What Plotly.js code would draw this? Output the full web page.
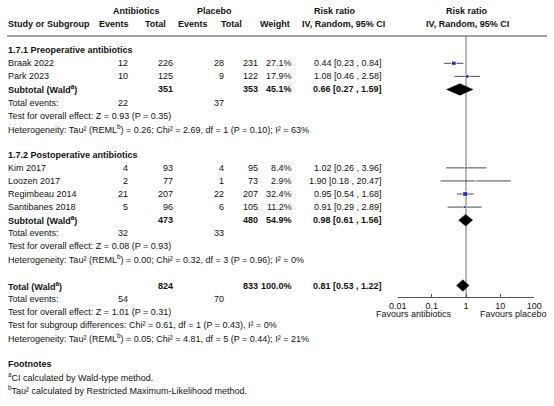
<!DOCTYPE html>
<html>
<head>
<meta charset="utf-8">
<script src="https://cdn.plot.ly/plotly-3.0.1.min.js"></script>
<style>
  html, body { margin: 0; padding: 0; background: #fff; }
  #chart { width: 554px; height: 406px; }
</style>
</head>
<body>
<div id="chart"></div>
<script>
// ---- Study data ----
const studies    = ['Braak 2022', 'Park 2023', 'Kim 2017', 'Loozen 2017', 'Regimbeau 2014', 'Santibanes 2018'];
const studyGroup = [0, 0, 1, 1, 1, 1];
const abEvents   = [12, 10, 4, 2, 21, 5];
const abTotal    = [226, 125, 93, 77, 207, 96];
const plEvents   = [28, 9, 4, 1, 22, 6];
const plTotal    = [231, 122, 95, 73, 207, 105];
const weights    = [27.1, 17.9, 8.4, 2.9, 32.4, 11.2];
const rr         = [0.44, 1.08, 1.02, 1.90, 0.95, 0.91];
const rrLow      = [0.23, 0.46, 0.26, 0.18, 0.54, 0.29];
const rrHigh     = [0.84, 2.58, 3.96, 20.47, 1.68, 2.89];

// ---- Subgroup summaries ----
const groupNames    = ['1.7.1 Preoperative antibiotics', '1.7.2 Postoperative antibiotics'];
const groupAbTotal  = [351, 473];
const groupPlTotal  = [353, 480];
const groupAbEvents = [22, 32];
const groupPlEvents = [37, 33];
const groupWeight   = [45.1, 54.9];
const groupRR       = [0.66, 0.98];
const groupLow      = [0.27, 0.61];
const groupHigh     = [1.59, 1.56];
const groupTest     = ['Z = 0.93 (P = 0.35)', 'Z = 0.08 (P = 0.93)'];
const groupHet      = ['Tau² (REML<sup>b</sup>) = 0.26; Chi² = 2.69, df = 1 (P = 0.10); I² = 63%',
                       'Tau² (REML<sup>b</sup>) = 0.00; Chi² = 0.32, df = 3 (P = 0.96); I² = 0%'];

// ---- Overall summary ----
const totalAbTotal  = 824;
const totalPlTotal  = 833;
const totalAbEvents = 54;
const totalPlEvents = 70;
const totalWeight   = 100.0;
const totalRR       = 0.81;
const totalLow      = 0.53;
const totalHigh     = 1.22;
const totalTest     = 'Z = 1.01 (P = 0.31)';
const subgroupDiff  = 'Chi² = 0.61, df = 1 (P = 0.43), I² = 0%';
const totalHet      = 'Tau² (REML<sup>b</sup>) = 0.05; Chi² = 4.81, df = 5 (P = 0.44); I² = 21%';

// ---- Axis ticks and labels ----
const tickValues = [0.01, 0.1, 1, 10, 100];
const tickLabels = ['0.01', '0.1', '1', '10', '100'];
const favourLeft  = 'Favours antibiotics';
const favourRight = 'Favours placebo';
const footnotes = ['<sup>a</sup>CI calculated by Wald-type method.',
                   '<sup>b</sup>Tau² calculated by Restricted Maximum-Likelihood method.'];

// ---- Page geometry ----
const W = 554, H = 406;
const ROW0 = 24.1, STEP = 13.07;            // pixel centre of row 0 and row pitch
const rowOf = px => (px - ROW0) / STEP;
const FONT = 'Liberation Sans, Arial, sans-serif';
const FS = 9;
const col = { name: 7, abEv: 129, abTot: 174, plEv: 225, plTot: 259, weight: 293, rr: 383 };
const axisPx = { left: 397.7, right: 534.3, y: 297.3 };

const annotations = [];
function txt(xpx, row, text, anchor, bold) {
  annotations.push({
    xref: 'paper', yref: 'y', x: xpx / W, y: row,
    text: bold ? '<b>' + text + '</b>' : text,
    xanchor: anchor, yanchor: 'middle', showarrow: false, borderpad: 0,
    font: { family: FONT, size: FS, color: '#111' }
  });
}
const fmt2 = v => v.toFixed(2);
const ciText = (e, l, h) => fmt2(e) + ' [' + fmt2(l) + ' , ' + fmt2(h) + ']';
const pct = w => w.toFixed(1) + '%';

// Column headers
txt(136, -1, 'Antibiotics', 'center', true);
txt(214, -1, 'Placebo', 'center', true);
txt(335, -1, 'Risk ratio', 'center', true);
txt(467, -1, 'Risk ratio', 'center', true);
txt(col.name, 0, 'Study or Subgroup', 'left', true);
txt(130, 0, 'Events', 'right', true);
txt(167, 0, 'Total', 'right', true);
txt(209, 0, 'Events', 'right', true);
txt(243, 0, 'Total', 'right', true);
txt(291, 0, 'Weight', 'right', true);
txt(343, 0, 'IV, Random, 95% CI', 'center', true);
txt(467, 0, 'IV, Random, 95% CI', 'center', true);

// Rows
const studyRows = [];
const summaryRows = [];
let r = 2;
groupNames.forEach((g, gi) => {
  txt(col.name, r, g, 'left', true); r++;
  studies.forEach((s, i) => {
    if (studyGroup[i] !== gi) return;
    studyRows[i] = r;
    txt(col.name, r, s, 'left');
    txt(col.abEv, r, String(abEvents[i]), 'right');
    txt(col.abTot, r, String(abTotal[i]), 'right');
    txt(col.plEv, r, String(plEvents[i]), 'right');
    txt(col.plTot, r, String(plTotal[i]), 'right');
    txt(col.weight, r, pct(weights[i]), 'right');
    txt(col.rr, r, ciText(rr[i], rrLow[i], rrHigh[i]), 'right');
    r++;
  });
  summaryRows.push(r);
  txt(col.name, r, 'Subtotal (Wald<sup>a</sup>)', 'left', true);
  txt(col.abTot, r, String(groupAbTotal[gi]), 'right', true);
  txt(col.plTot, r, String(groupPlTotal[gi]), 'right', true);
  txt(col.weight, r, pct(groupWeight[gi]), 'right', true);
  txt(col.rr, r, ciText(groupRR[gi], groupLow[gi], groupHigh[gi]), 'right', true);
  r++;
  txt(col.name, r, 'Total events:', 'left');
  txt(col.abEv, r, String(groupAbEvents[gi]), 'right');
  txt(col.plEv, r, String(groupPlEvents[gi]), 'right');
  r++;
  txt(col.name, r, 'Test for overall effect: ' + groupTest[gi], 'left'); r++;
  txt(col.name, r, 'Heterogeneity: ' + groupHet[gi], 'left'); r++;
  r++;
});

summaryRows.push(r);
txt(col.name, r, 'Total (Wald<sup>a</sup>)', 'left', true);
txt(col.abTot, r, String(totalAbTotal), 'right', true);
txt(col.plTot, r, String(totalPlTotal), 'right', true);
txt(col.weight, r, pct(totalWeight), 'right', true);
txt(col.rr, r, ciText(totalRR, totalLow, totalHigh), 'right', true);
r++;
txt(col.name, r, 'Total events:', 'left');
txt(col.abEv, r, String(totalAbEvents), 'right');
txt(col.plEv, r, String(totalPlEvents), 'right');
r++;
txt(col.name, r, 'Test for overall effect: ' + totalTest, 'left'); r++;
txt(col.name, r, 'Test for subgroup differences: ' + subgroupDiff, 'left'); r++;
txt(col.name, r, 'Heterogeneity: ' + totalHet, 'left'); r++;
r++;
txt(col.name, r, 'Footnotes', 'left', true); r++;
footnotes.forEach(f => { txt(col.name, r, f, 'left'); r++; });

// Favours labels under the axis
txt(414, rowOf(314), favourLeft, 'center', false);
txt(513, rowOf(314), favourRight, 'center', false);

// ---- Traces ----
const traces = [];

// Line of no effect
traces.push({
  x: [1, 1], y: [rowOf(36), rowOf(axisPx.y)],
  mode: 'lines', line: { color: '#6e6e6e', width: 1 }, hoverinfo: 'skip'
});

// Study estimates with confidence intervals
traces.push({
  x: rr, y: studyRows, mode: 'markers', hoverinfo: 'skip',
  marker: { symbol: 'square', color: '#0000cc', size: weights.map(w => 0.9 * Math.sqrt(w)) },
  error_x: {
    type: 'data', symmetric: false,
    array: rrHigh.map((h, i) => h - rr[i]),
    arrayminus: rrLow.map((l, i) => rr[i] - l),
    color: '#4a4a4a', thickness: 1, width: 0
  }
});

// Summary diamonds
const DH = 0.44;
const sumEst = groupRR.concat([totalRR]);
const sumLow = groupLow.concat([totalLow]);
const sumHigh = groupHigh.concat([totalHigh]);
sumEst.forEach((e, k) => {
  const y = summaryRows[k];
  traces.push({
    x: [sumLow[k], e, sumHigh[k], e, sumLow[k]],
    y: [y, y - DH, y, y + DH, y],
    mode: 'lines', fill: 'toself', fillcolor: '#000',
    line: { color: '#000', width: 0.5 }, hoverinfo: 'skip'
  });
});

const layout = {
  width: W, height: H,
  margin: { l: 0, r: 0, t: 0, b: 0 },
  paper_bgcolor: '#fff', plot_bgcolor: 'rgba(0,0,0,0)',
  showlegend: false,
  xaxis: {
    type: 'log', range: [-2, 2],
    domain: [axisPx.left / W, axisPx.right / W],
    anchor: 'free', position: 1 - axisPx.y / H,
    tickvals: tickValues, ticktext: tickLabels,
    showline: true, linecolor: '#555', linewidth: 1,
    ticks: 'inside', ticklen: 3, tickcolor: '#555', tickwidth: 1,
    showgrid: false, zeroline: false,
    tickfont: { family: FONT, size: FS, color: '#111' }
  },
  yaxis: {
    range: [rowOf(H), rowOf(0)], domain: [0, 1],
    visible: false, showgrid: false, zeroline: false
  },
  shapes: [{
    type: 'line', xref: 'paper', yref: 'paper',
    x0: 7 / W, x1: 547 / W, y0: 1 - 36 / H, y1: 1 - 36 / H,
    line: { color: '#808080', width: 1.3 }
  }],
  annotations: annotations
};

Plotly.newPlot('chart', traces, layout, { staticPlot: true, displayModeBar: false });
</script>
</body>
</html>
